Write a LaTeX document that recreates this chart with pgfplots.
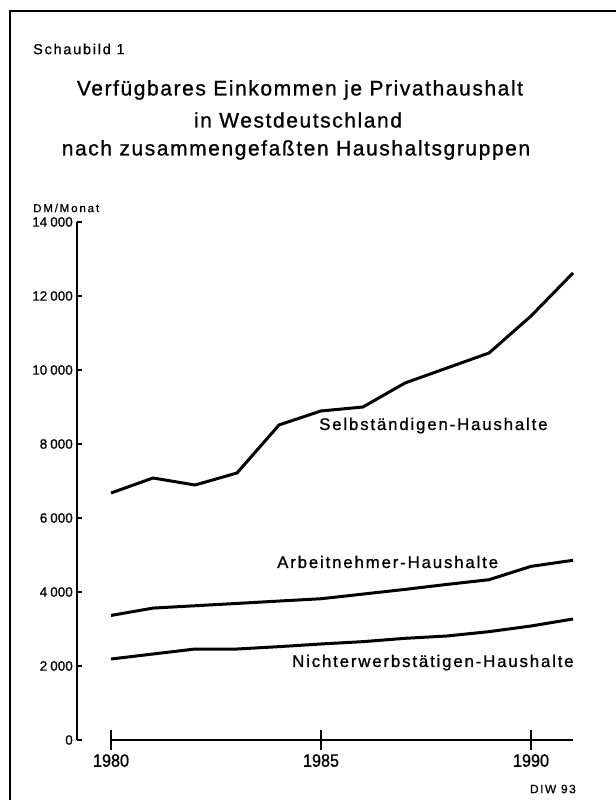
\documentclass[border=0pt]{standalone}
\usepackage{fontspec}
\setmainfont{Liberation Sans}
\newfontfamily\titlefont[LetterSpace=7.5, FakeBold=1]{Liberation Sans}
\newfontfamily\labfont[LetterSpace=11, FakeBold=1]{Liberation Sans}
\newfontfamily\smallfont[LetterSpace=12, FakeBold=0.8]{Liberation Sans}
\newfontfamily\dmfont[LetterSpace=16, FakeBold=0.8]{Liberation Sans}
\newfontfamily\tickfont[FakeStretch=0.9, FakeBold=1]{Liberation Sans}
\newfontfamily\ytickfont[FakeBold=0.8]{Liberation Sans}
\usepackage{pgfplots}
\pgfplotsset{compat=1.18}

\pgfplotstableread{
year selb arb nicht
1980 6676 3366 2189
1981 7081 3565 2324
1982 6892 3628 2459
1983 7216 3691 2459
1984 8514 3755 2523
1985 8892 3818 2595
1986 9000 3944 2658
1987 9649 4070 2748
1988 10054 4205 2811
1989 10459 4332 2928
1990 11459 4693 3081
1991 12622 4856 3270
}\datatable

\newcommand{\ks}{\hspace{3bp}}

\begin{document}
\begin{tikzpicture}[x=1bp,y=1bp]
\useasboundingbox (0,0) rectangle (616,800);
\draw[line width=2bp] (10,0) -- (10,789) -- (616,789);

% y axis and data
\begin{axis}[at={(77bp,60bp)}, anchor=south west, scale only axis,
  width=496bp, height=518bp,
  xmin=1979.19, xmax=1991, ymin=0, ymax=14000,
  axis x line=none, axis y line=left,
  y axis line style={line width=2.4bp, -},
  scaled y ticks=false,
  ytick={0,2000,4000,6000,8000,10000,12000,14000},
  yticklabels={0,2\ks000,4\ks000,6\ks000,8\ks000,10\ks000,12\ks000,14\ks000},
  ytick align=inside,
  major tick length=5bp,
  every tick/.style={black, line width=1.2bp},
  yticklabel style={font=\ytickfont\fontsize{13.5bp}{13.5bp}\selectfont, inner sep=0pt, xshift=-4bp},
  clip=false,
]
\addplot[black, line width=3bp, line join=round] table[x=year, y=selb] {\datatable};
\addplot[black, line width=3bp, line join=round] table[x=year, y=arb] {\datatable};
\addplot[black, line width=3bp, line join=round] table[x=year, y=nicht] {\datatable};
\end{axis}

% x axis
\begin{axis}[at={(77bp,60bp)}, anchor=south west, scale only axis,
  width=496bp, height=518bp,
  xmin=1979.19, xmax=1991, ymin=0, ymax=14000,
  axis x line=bottom, axis y line=none,
  x axis line style={draw=none},
  scaled x ticks=false,
  xtick={1980,1985,1990},
  xticklabels={1980,1985,1990},
  xtick align=center,
  major tick length=20bp,
  every tick/.style={black, line width=1.2bp},
  xticklabel style={font=\tickfont\fontsize{18bp}{18bp}\selectfont, inner sep=0pt, yshift=-4bp},
  clip=false,
]
\draw[line width=2bp] (axis cs:1980,0) -- (axis cs:1991,0);
\end{axis}

% texts
\node[anchor=west, inner sep=0pt] at (33,751) {\smallfont\fontsize{14.5bp}{14.5bp}\selectfont Schaubild 1};
\node[inner sep=0pt] at (300,710) {\titlefont\fontsize{21bp}{21bp}\selectfont Verfügbares Einkommen je Privathaushalt};
\node[inner sep=0pt] at (298,680) {\titlefont\fontsize{21bp}{21bp}\selectfont in Westdeutschland};
\node[inner sep=0pt] at (296,650) {\titlefont\fontsize{21bp}{21bp}\selectfont nach zusammengefaßten Haushaltsgruppen};
\node[anchor=west, inner sep=0pt] at (33,592) {\dmfont\fontsize{11.5bp}{11.5bp}\selectfont DM/Monat};
\node[anchor=base west, inner sep=0pt] at (319,370) {\labfont\fontsize{16.8bp}{16.8bp}\selectfont Selbständigen-Haushalte};
\node[anchor=base west, inner sep=0pt] at (277,232) {\labfont\fontsize{16.8bp}{16.8bp}\selectfont Arbeitnehmer-Haushalte};
\node[anchor=base west, inner sep=0pt] at (292,133) {\labfont\fontsize{16.8bp}{16.8bp}\selectfont Nichterwerbstätigen-Haushalte};
\node[anchor=east, inner sep=0pt] at (576,11) {\smallfont\fontsize{12bp}{12bp}\selectfont DIW 93};
\end{tikzpicture}
\end{document}
